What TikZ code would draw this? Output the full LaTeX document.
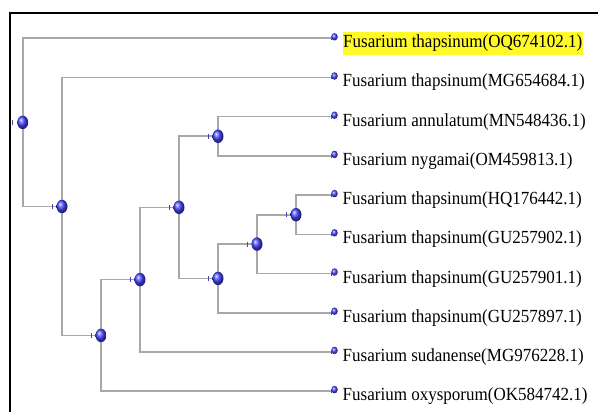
\documentclass[tikz,border=0pt]{standalone}
\usepackage{fontspec}
\setmainfont{Liberation Serif}
\usetikzlibrary{shapes.geometric}
\pgfdeclarelayer{background}
\pgfsetlayers{background,main}
\definecolor{brgray}{RGB}{168,168,168}
\definecolor{balblue}{RGB}{70,70,255}
\definecolor{tickblue}{RGB}{70,70,170}
\definecolor{hl}{RGB}{255,250,40}
\tikzset{
  br/.style={draw=brgray, line width=1.6pt},
  inode/.style={ellipse, inner sep=0pt, minimum width=11pt, minimum height=13.5pt, shading=ball, ball color=balblue},
  lnode/.style={ellipse, inner sep=0pt, minimum width=6.5pt, minimum height=7.5pt, shading=ball, ball color=balblue},
  tick/.style={draw=tickblue, line width=0.8pt},
  lab/.style={anchor=base west, inner sep=0pt, font=\fontsize{18.5}{20}\selectfont, text=black},
  frame/.style={draw=black, line width=2.2pt}
}
\newcommand{\lt}[1]{\scalebox{0.92}[1]{#1}}
\begin{document}
\begin{tikzpicture}[x=1pt,y=-1pt]
\useasboundingbox (0,0) rectangle (598,412);
% frame
\coordinate (f1) at (10,412);
\coordinate (f2) at (10,13);
\coordinate (f3) at (598,13);
\draw[frame] (f1) -- (f2) -- (f3);
% internal nodes
\node[inode] (R) at (22.7,122.4) {};
\node[inode] (A) at (62,206.5) {};
\node[inode] (B) at (101,335.4) {};
\node[inode] (C) at (140,279.6) {};
\node[inode] (D) at (179,207.3) {};
\node[inode] (E) at (218,136.3) {};
\node[inode] (F) at (218,278.4) {};
\node[inode] (G) at (257,244.1) {};
\node[inode] (H) at (296,214.7) {};
% leaves
\foreach \i/\y in {1/38.3,2/77.5,3/116.7,4/155.9,5/195.1,6/234.3,7/273.5,8/312.7,9/351.9,10/391.1}{
  \node[lnode] (L\i) at (334.5,\y-1.5) {};
  \coordinate (T\i) at (331,\y);
  \draw[tick] ([yshift=-2pt]T\i) -- ([yshift=2pt]T\i);
}
% ticks before internal nodes
\foreach \n in {R,A,B,C,D,E,F,G,H}{
  \draw[tick] ([xshift=-10pt,yshift=-2.5pt]\n.center) -- ([xshift=-10pt,yshift=2.5pt]\n.center);
}
% branches
\begin{pgfonlayer}{background}
\draw[br] (R.center) |- (T1);
\draw[br] (R.center) |- (A.center);
\draw[br] (A.center) |- (T2);
\draw[br] (A.center) |- (B.center);
\draw[br] (B.center) |- (C.center);
\draw[br] (B.center) |- (T10);
\draw[br] (C.center) |- (D.center);
\draw[br] (C.center) |- (T9);
\draw[br] (D.center) |- (E.center);
\draw[br] (D.center) |- (F.center);
\draw[br] (E.center) |- (T3);
\draw[br] (E.center) |- (T4);
\draw[br] (F.center) |- (G.center);
\draw[br] (F.center) |- (T8);
\draw[br] (G.center) |- (H.center);
\draw[br] (G.center) |- (T7);
\draw[br] (H.center) |- (T5);
\draw[br] (H.center) |- (T6);
\end{pgfonlayer}
% labels
\node[lab, fill=hl, inner xsep=0.5pt, inner ysep=3pt] (N1) at (342.5,47.8) {\lt{Fusarium thapsinum(OQ674102.1)}};
\node[lab] (N2) at (342.5,87.0) {\lt{Fusarium thapsinum(MG654684.1)}};
\node[lab] (N3) at (342.5,126.2) {\lt{Fusarium annulatum(MN548436.1)}};
\node[lab] (N4) at (342.5,165.4) {\lt{Fusarium nygamai(OM459813.1)}};
\node[lab] (N5) at (342.5,204.6) {\lt{Fusarium thapsinum(HQ176442.1)}};
\node[lab] (N6) at (342.5,243.8) {\lt{Fusarium thapsinum(GU257902.1)}};
\node[lab] (N7) at (342.5,283.0) {\lt{Fusarium thapsinum(GU257901.1)}};
\node[lab] (N8) at (342.5,322.2) {\lt{Fusarium thapsinum(GU257897.1)}};
\node[lab] (N9) at (342.5,361.4) {\lt{Fusarium sudanense(MG976228.1)}};
\node[lab] (N10) at (342.5,400.6) {\lt{Fusarium oxysporum(OK584742.1)}};
\end{tikzpicture}
\end{document}
